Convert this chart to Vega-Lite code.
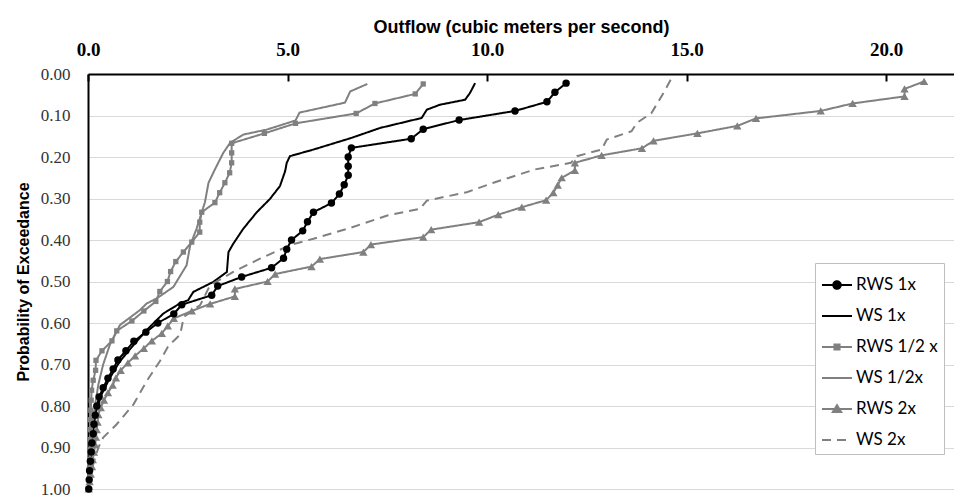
{
  "$schema": "https://vega.github.io/schema/vega-lite/v6.json",
  "width": 866,
  "height": 415,
  "autosize": {"type": "none"},
  "padding": {"left": 88, "top": 74, "right": 0, "bottom": 9},
  "background": "white",
  "config": {
    "view": {"stroke": null},
    "axis": {"gridColor": "#d9d9d9", "gridWidth": 1}
  },
  "data": {
    "values": [
      {"s":"RWS 1x","x":11.98,"p":0.022},{"s":"RWS 1x","x":11.7,"p":0.044},{"s":"RWS 1x","x":11.5,"p":0.067},{"s":"RWS 1x","x":10.7,"p":0.089},{"s":"RWS 1x","x":9.3,"p":0.111},{"s":"RWS 1x","x":8.4,"p":0.133},{"s":"RWS 1x","x":8.1,"p":0.156},{"s":"RWS 1x","x":6.6,"p":0.178},{"s":"RWS 1x","x":6.52,"p":0.2},{"s":"RWS 1x","x":6.52,"p":0.222},{"s":"RWS 1x","x":6.52,"p":0.244},{"s":"RWS 1x","x":6.42,"p":0.267},{"s":"RWS 1x","x":6.3,"p":0.289},{"s":"RWS 1x","x":6.1,"p":0.311},{"s":"RWS 1x","x":5.65,"p":0.333},{"s":"RWS 1x","x":5.5,"p":0.356},{"s":"RWS 1x","x":5.38,"p":0.378},{"s":"RWS 1x","x":5.1,"p":0.4},{"s":"RWS 1x","x":4.98,"p":0.422},{"s":"RWS 1x","x":4.9,"p":0.444},{"s":"RWS 1x","x":4.6,"p":0.467},{"s":"RWS 1x","x":3.85,"p":0.489},{"s":"RWS 1x","x":3.25,"p":0.511},{"s":"RWS 1x","x":3.1,"p":0.533},{"s":"RWS 1x","x":2.35,"p":0.556},{"s":"RWS 1x","x":2.15,"p":0.578},{"s":"RWS 1x","x":1.75,"p":0.6},{"s":"RWS 1x","x":1.45,"p":0.622},{"s":"RWS 1x","x":1.15,"p":0.644},{"s":"RWS 1x","x":0.95,"p":0.667},{"s":"RWS 1x","x":0.75,"p":0.689},{"s":"RWS 1x","x":0.63,"p":0.711},{"s":"RWS 1x","x":0.5,"p":0.733},{"s":"RWS 1x","x":0.38,"p":0.756},{"s":"RWS 1x","x":0.28,"p":0.778},{"s":"RWS 1x","x":0.22,"p":0.8},{"s":"RWS 1x","x":0.18,"p":0.822},{"s":"RWS 1x","x":0.15,"p":0.844},{"s":"RWS 1x","x":0.13,"p":0.867},{"s":"RWS 1x","x":0.1,"p":0.889},{"s":"RWS 1x","x":0.08,"p":0.911},{"s":"RWS 1x","x":0.06,"p":0.933},{"s":"RWS 1x","x":0.04,"p":0.956},{"s":"RWS 1x","x":0.03,"p":0.978},{"s":"RWS 1x","x":0.02,"p":1.0},

      {"s":"WS 1x","x":9.7,"p":0.022},{"s":"WS 1x","x":9.57,"p":0.046},{"s":"WS 1x","x":9.45,"p":0.062},{"s":"WS 1x","x":8.82,"p":0.074},{"s":"WS 1x","x":8.49,"p":0.086},{"s":"WS 1x","x":8.36,"p":0.106},{"s":"WS 1x","x":7.32,"p":0.13},{"s":"WS 1x","x":6.57,"p":0.155},{"s":"WS 1x","x":5.65,"p":0.182},{"s":"WS 1x","x":5.06,"p":0.198},{"s":"WS 1x","x":4.98,"p":0.214},{"s":"WS 1x","x":4.94,"p":0.234},{"s":"WS 1x","x":4.81,"p":0.27},{"s":"WS 1x","x":4.56,"p":0.301},{"s":"WS 1x","x":4.23,"p":0.333},{"s":"WS 1x","x":3.89,"p":0.373},{"s":"WS 1x","x":3.64,"p":0.409},{"s":"WS 1x","x":3.52,"p":0.429},{"s":"WS 1x","x":3.48,"p":0.477},{"s":"WS 1x","x":3.14,"p":0.501},{"s":"WS 1x","x":2.64,"p":0.525},{"s":"WS 1x","x":2.51,"p":0.545},{"s":"WS 1x","x":2.3,"p":0.553},{"s":"WS 1x","x":1.89,"p":0.577},{"s":"WS 1x","x":1.47,"p":0.617},{"s":"WS 1x","x":1.22,"p":0.644},{"s":"WS 1x","x":0.8,"p":0.692},{"s":"WS 1x","x":0.55,"p":0.732},{"s":"WS 1x","x":0.34,"p":0.772},{"s":"WS 1x","x":0.18,"p":0.82},{"s":"WS 1x","x":0.09,"p":0.876},{"s":"WS 1x","x":0.03,"p":0.94},{"s":"WS 1x","x":0.01,"p":0.995},

      {"s":"RWS 1/2 x","x":8.4,"p":0.024},{"s":"RWS 1/2 x","x":8.2,"p":0.048},{"s":"RWS 1/2 x","x":7.19,"p":0.071},{"s":"RWS 1/2 x","x":6.72,"p":0.095},{"s":"RWS 1/2 x","x":5.2,"p":0.119},{"s":"RWS 1/2 x","x":4.42,"p":0.143},{"s":"RWS 1/2 x","x":3.6,"p":0.167},{"s":"RWS 1/2 x","x":3.6,"p":0.19},{"s":"RWS 1/2 x","x":3.6,"p":0.214},{"s":"RWS 1/2 x","x":3.55,"p":0.238},{"s":"RWS 1/2 x","x":3.43,"p":0.262},{"s":"RWS 1/2 x","x":3.3,"p":0.286},{"s":"RWS 1/2 x","x":3.18,"p":0.31},{"s":"RWS 1/2 x","x":2.85,"p":0.333},{"s":"RWS 1/2 x","x":2.8,"p":0.357},{"s":"RWS 1/2 x","x":2.8,"p":0.381},{"s":"RWS 1/2 x","x":2.6,"p":0.405},{"s":"RWS 1/2 x","x":2.39,"p":0.429},{"s":"RWS 1/2 x","x":2.2,"p":0.452},{"s":"RWS 1/2 x","x":2.07,"p":0.476},{"s":"RWS 1/2 x","x":1.99,"p":0.5},{"s":"RWS 1/2 x","x":1.8,"p":0.524},{"s":"RWS 1/2 x","x":1.7,"p":0.548},{"s":"RWS 1/2 x","x":1.4,"p":0.571},{"s":"RWS 1/2 x","x":1.1,"p":0.595},{"s":"RWS 1/2 x","x":0.72,"p":0.619},{"s":"RWS 1/2 x","x":0.6,"p":0.643},{"s":"RWS 1/2 x","x":0.35,"p":0.667},{"s":"RWS 1/2 x","x":0.2,"p":0.69},{"s":"RWS 1/2 x","x":0.19,"p":0.714},{"s":"RWS 1/2 x","x":0.13,"p":0.738},{"s":"RWS 1/2 x","x":0.09,"p":0.762},{"s":"RWS 1/2 x","x":0.08,"p":0.786},{"s":"RWS 1/2 x","x":0.07,"p":0.81},{"s":"RWS 1/2 x","x":0.06,"p":0.833},{"s":"RWS 1/2 x","x":0.05,"p":0.857},{"s":"RWS 1/2 x","x":0.05,"p":0.881},{"s":"RWS 1/2 x","x":0.04,"p":0.905},{"s":"RWS 1/2 x","x":0.04,"p":0.929},{"s":"RWS 1/2 x","x":0.03,"p":0.952},{"s":"RWS 1/2 x","x":0.02,"p":0.976},{"s":"RWS 1/2 x","x":0.0,"p":1.0},

      {"s":"WS 1/2x","x":7.0,"p":0.024},{"s":"WS 1/2x","x":6.57,"p":0.042},{"s":"WS 1/2x","x":6.44,"p":0.069},{"s":"WS 1/2x","x":5.3,"p":0.093},{"s":"WS 1/2x","x":5.2,"p":0.112},{"s":"WS 1/2x","x":4.48,"p":0.134},{"s":"WS 1/2x","x":3.89,"p":0.146},{"s":"WS 1/2x","x":3.56,"p":0.166},{"s":"WS 1/2x","x":3.39,"p":0.19},{"s":"WS 1/2x","x":3.18,"p":0.23},{"s":"WS 1/2x","x":3.02,"p":0.262},{"s":"WS 1/2x","x":2.93,"p":0.309},{"s":"WS 1/2x","x":2.72,"p":0.373},{"s":"WS 1/2x","x":2.56,"p":0.413},{"s":"WS 1/2x","x":2.47,"p":0.461},{"s":"WS 1/2x","x":2.14,"p":0.513},{"s":"WS 1/2x","x":1.72,"p":0.541},{"s":"WS 1/2x","x":1.47,"p":0.553},{"s":"WS 1/2x","x":1.3,"p":0.569},{"s":"WS 1/2x","x":0.8,"p":0.605},{"s":"WS 1/2x","x":0.55,"p":0.652},{"s":"WS 1/2x","x":0.38,"p":0.7},{"s":"WS 1/2x","x":0.26,"p":0.748},{"s":"WS 1/2x","x":0.18,"p":0.796},{"s":"WS 1/2x","x":0.09,"p":0.86},{"s":"WS 1/2x","x":0.05,"p":0.923},{"s":"WS 1/2x","x":0.01,"p":0.995},

      {"s":"RWS 2x","x":20.95,"p":0.018},{"s":"RWS 2x","x":20.46,"p":0.036},{"s":"RWS 2x","x":20.46,"p":0.054},{"s":"RWS 2x","x":19.16,"p":0.071},{"s":"RWS 2x","x":18.36,"p":0.089},{"s":"RWS 2x","x":16.74,"p":0.107},{"s":"RWS 2x","x":16.27,"p":0.125},{"s":"RWS 2x","x":15.27,"p":0.143},{"s":"RWS 2x","x":14.17,"p":0.161},{"s":"RWS 2x","x":13.88,"p":0.179},{"s":"RWS 2x","x":12.87,"p":0.196},{"s":"RWS 2x","x":12.2,"p":0.214},{"s":"RWS 2x","x":12.2,"p":0.232},{"s":"RWS 2x","x":11.87,"p":0.25},{"s":"RWS 2x","x":11.77,"p":0.268},{"s":"RWS 2x","x":11.66,"p":0.286},{"s":"RWS 2x","x":11.48,"p":0.304},{"s":"RWS 2x","x":10.87,"p":0.321},{"s":"RWS 2x","x":10.28,"p":0.339},{"s":"RWS 2x","x":9.8,"p":0.357},{"s":"RWS 2x","x":8.6,"p":0.375},{"s":"RWS 2x","x":8.4,"p":0.393},{"s":"RWS 2x","x":7.09,"p":0.411},{"s":"RWS 2x","x":6.9,"p":0.429},{"s":"RWS 2x","x":5.81,"p":0.446},{"s":"RWS 2x","x":5.6,"p":0.464},{"s":"RWS 2x","x":4.69,"p":0.482},{"s":"RWS 2x","x":4.5,"p":0.5},{"s":"RWS 2x","x":3.68,"p":0.518},{"s":"RWS 2x","x":3.68,"p":0.536},{"s":"RWS 2x","x":3.06,"p":0.554},{"s":"RWS 2x","x":2.6,"p":0.571},{"s":"RWS 2x","x":2.15,"p":0.589},{"s":"RWS 2x","x":2.0,"p":0.607},{"s":"RWS 2x","x":1.85,"p":0.625},{"s":"RWS 2x","x":1.6,"p":0.643},{"s":"RWS 2x","x":1.4,"p":0.661},{"s":"RWS 2x","x":1.18,"p":0.679},{"s":"RWS 2x","x":1.0,"p":0.696},{"s":"RWS 2x","x":0.82,"p":0.714},{"s":"RWS 2x","x":0.7,"p":0.732},{"s":"RWS 2x","x":0.62,"p":0.75},{"s":"RWS 2x","x":0.5,"p":0.768},{"s":"RWS 2x","x":0.4,"p":0.786},{"s":"RWS 2x","x":0.32,"p":0.804},{"s":"RWS 2x","x":0.26,"p":0.821},{"s":"RWS 2x","x":0.24,"p":0.839},{"s":"RWS 2x","x":0.22,"p":0.857},{"s":"RWS 2x","x":0.2,"p":0.875},{"s":"RWS 2x","x":0.18,"p":0.893},{"s":"RWS 2x","x":0.15,"p":0.911},{"s":"RWS 2x","x":0.12,"p":0.929},{"s":"RWS 2x","x":0.1,"p":0.946},{"s":"RWS 2x","x":0.07,"p":0.964},{"s":"RWS 2x","x":0.04,"p":0.982},{"s":"RWS 2x","x":0.02,"p":1.0},

      {"s":"WS 2x","x":14.6,"p":0.014},{"s":"WS 2x","x":14.42,"p":0.046},{"s":"WS 2x","x":14.12,"p":0.094},{"s":"WS 2x","x":13.75,"p":0.118},{"s":"WS 2x","x":13.62,"p":0.138},{"s":"WS 2x","x":13.0,"p":0.158},{"s":"WS 2x","x":12.87,"p":0.182},{"s":"WS 2x","x":12.25,"p":0.198},{"s":"WS 2x","x":12.1,"p":0.214},{"s":"WS 2x","x":11.2,"p":0.23},{"s":"WS 2x","x":10.16,"p":0.262},{"s":"WS 2x","x":9.49,"p":0.285},{"s":"WS 2x","x":8.49,"p":0.305},{"s":"WS 2x","x":8.32,"p":0.325},{"s":"WS 2x","x":7.5,"p":0.341},{"s":"WS 2x","x":6.5,"p":0.373},{"s":"WS 2x","x":5.65,"p":0.397},{"s":"WS 2x","x":5.1,"p":0.411},{"s":"WS 2x","x":4.31,"p":0.445},{"s":"WS 2x","x":3.64,"p":0.477},{"s":"WS 2x","x":3.06,"p":0.509},{"s":"WS 2x","x":2.81,"p":0.557},{"s":"WS 2x","x":2.4,"p":0.585},{"s":"WS 2x","x":2.31,"p":0.628},{"s":"WS 2x","x":2.01,"p":0.656},{"s":"WS 2x","x":1.8,"p":0.692},{"s":"WS 2x","x":1.47,"p":0.74},{"s":"WS 2x","x":1.14,"p":0.796},{"s":"WS 2x","x":0.72,"p":0.844},{"s":"WS 2x","x":0.38,"p":0.876},{"s":"WS 2x","x":0.26,"p":0.9},{"s":"WS 2x","x":0.13,"p":0.94},{"s":"WS 2x","x":0.05,"p":0.987}
    ]
  },
  "encoding": {
    "x": {
      "field": "x", "type": "quantitative",
      "scale": {"domain": [0, 21.7], "nice": false, "zero": false},
      "axis": {
        "orient": "top", "title": "Outflow (cubic meters per second)",
        "values": [0, 5, 10, 15, 20], "format": ".1f",
        "grid": false, "domainColor": "black", "domainWidth": 2,
        "ticks": true, "tickSize": -7, "tickWidth": 2, "tickColor": "black",
        "labelFont": "Liberation Serif", "labelFontWeight": "bold", "labelFontSize": 19, "labelColor": "black",
        "labelPadding": 22, "labelFlush": false,
        "titleFont": "Liberation Sans", "titleFontWeight": "bold", "titleFontSize": 18, "titleColor": "black",
        "titlePadding": 4
      }
    },
    "y": {
      "field": "p", "type": "quantitative",
      "scale": {"domain": [0, 1], "reverse": true, "nice": false},
      "axis": {
        "title": "Probability of Exceedance", "values": [0,0.1,0.2,0.3,0.4,0.5,0.6,0.7,0.8,0.9,1.0],
        "format": ".2f", "grid": true, "ticks": false,
        "domainColor": "black", "domainWidth": 2,
        "labelFont": "Liberation Serif", "labelFontSize": 17, "labelColor": "#333333",
        "labelPadding": 18,
        "titleFont": "Liberation Sans", "titleFontWeight": "bold", "titleFontSize": 16, "titleColor": "black",
        "titlePadding": 9
      }
    },
    "color": {
      "field": "s", "type": "nominal",
      "scale": {
        "domain": ["RWS 1x", "WS 1x", "RWS 1/2 x", "WS 1/2x", "RWS 2x", "WS 2x"],
        "range": ["#000000", "#000000", "#808080", "#808080", "#808080", "#808080"]
      },
      "legend": {
        "title": null, "orient": "none", "legendX": 727, "legendY": 189,
        "symbolType": "stroke", "symbolSize": 900, "symbolStrokeWidth": 2,
        "labelFont": "Lato", "labelFontSize": 17, "labelColor": "black", "labelOffset": 3,
        "rowPadding": 7, "padding": 6,
        "strokeColor": "#bfbfbf", "fillColor": "white",
        "encode": {
          "symbols": {
            "update": {
              "shape": {"signal": "datum.value === 'RWS 1x' ? 'M-1,0L1,0M-0.25,0A0.25,0.25,0,1,1,0.25,0A0.25,0.25,0,1,1,-0.25,0Z' : datum.value === 'RWS 1/2 x' ? 'M-1,0L1,0M-0.17,-0.17L0.17,-0.17L0.17,0.17L-0.17,0.17Z' : datum.value === 'RWS 2x' ? 'M-1,0L1,0M0,-0.25L0.28,0.2L-0.28,0.2Z' : 'M-1,0L1,0'"},
              "fill": {"signal": "datum.value === 'RWS 1x' ? '#000000' : (datum.value === 'RWS 1/2 x' || datum.value === 'RWS 2x') ? '#808080' : 'transparent'"},
              "strokeDash": {"signal": "datum.value === 'WS 2x' ? [9, 6] : [1, 0]"}
            }
          }
        }
      }
    },
    "order": {"field": "p", "type": "quantitative"}
  },
  "layer": [
    {
      "mark": {"type": "line", "strokeWidth": 2, "interpolate": "linear"},
      "encoding": {
        "strokeDash": {
          "field": "s", "type": "nominal",
          "scale": {
            "domain": ["RWS 1x", "WS 1x", "RWS 1/2 x", "WS 1/2x", "RWS 2x", "WS 2x"],
            "range": [[1, 0], [1, 0], [1, 0], [1, 0], [1, 0], [9, 6]]
          },
          "legend": null
        }
      }
    },
    {
      "transform": [{"filter": "datum.s === 'RWS 1/2 x'"}],
      "mark": {"type": "point", "filled": true, "opacity": 1, "shape": "square", "size": 28}
    },
    {
      "transform": [{"filter": "datum.s === 'RWS 2x'"}],
      "mark": {"type": "point", "filled": true, "opacity": 1, "shape": "triangle-up", "size": 70}
    },
    {
      "transform": [{"filter": "datum.s === 'RWS 1x'"}],
      "mark": {"type": "point", "filled": true, "opacity": 1, "shape": "circle", "size": 55}
    }
  ]
}
